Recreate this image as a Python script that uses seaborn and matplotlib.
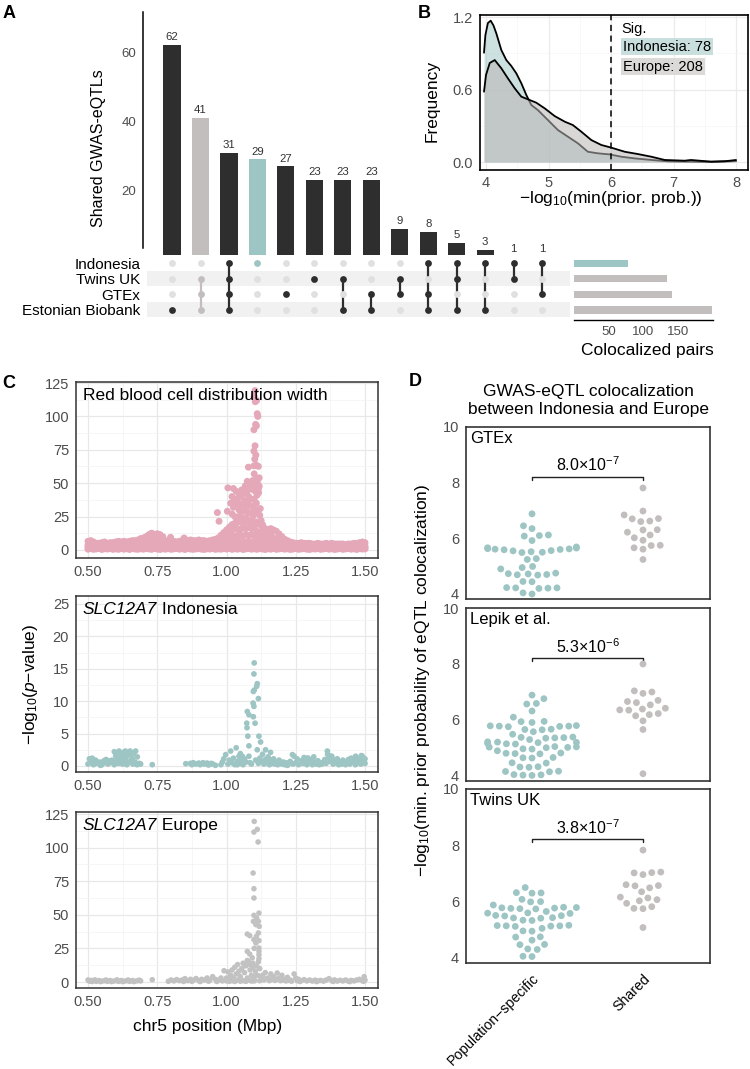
import matplotlib
matplotlib.use("Agg")
import matplotlib.pyplot as plt
from matplotlib.ticker import FixedLocator
import pandas as pd
import seaborn as sns

# ---------------- data ----------------
# panel A: UpSet of shared GWAS-eQTLs
set_names = ["Indonesia", "Twins UK", "GTEx", "Estonian Biobank"]
set_sizes = [78, 134, 141, 198]
combo_counts = [62, 41, 31, 29, 27, 23, 23, 23, 9, 8, 5, 3, 1, 1]
combo_members = [
    ["Estonian Biobank"],
    ["Twins UK", "GTEx", "Estonian Biobank"],
    ["Indonesia", "Twins UK", "GTEx", "Estonian Biobank"],
    ["Indonesia"],
    ["GTEx"],
    ["Twins UK"],
    ["Twins UK", "Estonian Biobank"],
    ["GTEx", "Estonian Biobank"],
    ["Twins UK", "GTEx"],
    ["Indonesia", "GTEx", "Estonian Biobank"],
    ["Indonesia", "Twins UK", "Estonian Biobank"],
    ["Indonesia", "Estonian Biobank"],
    ["Indonesia", "Twins UK"],
    ["Indonesia", "GTEx"],
]
combo_kind = ["dark", "gray", "dark", "teal", "dark", "dark", "dark", "dark",
              "dark", "dark", "dark", "dark", "dark", "dark"]

# panel B: density curves
indo_dens_x = [3.968, 3.99, 4.03, 4.075, 4.12, 4.165, 4.245, 4.325, 4.405, 4.485, 4.565,
               4.645, 4.725, 4.83, 4.99, 5.15, 5.31, 5.47, 5.63, 5.79, 5.98, 6.165,
               6.38, 6.65, 6.91, 7.34, 7.6, 8.0]
indo_dens_y = [0.905, 1.05, 1.15, 1.17, 1.13, 1.065, 0.927, 0.844, 0.795, 0.734, 0.652,
               0.555, 0.472, 0.43, 0.348, 0.265, 0.21, 0.155, 0.085, 0.072, 0.063, 0.044,
               0.03, 0.017, 0.006, 0.004, 0.002, 0.008]
euro_dens_x = [3.968, 4.0, 4.06, 4.14, 4.245, 4.35, 4.46, 4.565, 4.7, 4.805, 4.94, 5.1,
               5.26, 5.39, 5.525, 5.685, 5.845, 6.005, 6.22, 6.43, 6.645, 6.86, 7.18,
               7.28, 7.6, 7.82, 8.0]
euro_dens_y = [0.582, 0.72, 0.82, 0.844, 0.776, 0.693, 0.61, 0.541, 0.513, 0.491, 0.444,
               0.38, 0.334, 0.306, 0.251, 0.182, 0.141, 0.119, 0.085, 0.066, 0.044,
               0.017, 0.011, 0.017, 0.003, 0.006, 0.017]

# panel C: regional association (Mbp, -log10 p)
pink_band_x = [0.50, 0.51, 0.52, 0.53, 0.54, 0.55, 0.56, 0.57, 0.58, 0.59,
               0.60, 0.61, 0.62, 0.63, 0.64, 0.65, 0.66, 0.67, 0.68, 0.69,
               0.70, 0.71, 0.72, 0.73, 0.74, 0.75, 0.76, 0.77, 0.78, 0.79,
               0.80, 0.81, 0.82, 0.83, 0.84, 0.85, 0.86, 0.87, 0.88, 0.89,
               0.90, 0.91, 0.92, 0.93, 0.94, 0.95, 0.96, 0.97, 0.98, 0.99,
               1.00, 1.01, 1.02, 1.03, 1.04, 1.05, 1.06, 1.07, 1.08, 1.09,
               1.10, 1.11, 1.12, 1.13, 1.14, 1.15, 1.16, 1.17, 1.18, 1.19,
               1.20, 1.21, 1.22, 1.23, 1.24, 1.25, 1.26, 1.27, 1.28, 1.29,
               1.30, 1.31, 1.32, 1.33, 1.34, 1.35, 1.36, 1.37, 1.38, 1.39,
               1.40, 1.41, 1.42, 1.43, 1.44, 1.45, 1.46, 1.47, 1.48, 1.49, 1.50]
pink_band_low = [0.6, 1.0, 0.5, 0.8, 1.1, 0.4, 0.9, 0.7, 1.0, 0.5,
                 0.8, 0.5, 1.0, 0.6, 0.9, 0.4, 1.1, 0.7, 0.5, 0.9,
                 0.6, 1.0, 0.8, 0.5, 1.1, 0.7, 0.4, 0.9, 0.6, 1.0,
                 0.5, 0.8, 1.1, 0.6, 0.9, 0.4, 1.0, 0.7, 0.5, 0.8,
                 1.0, 0.6, 0.4, 0.9, 0.7, 1.1, 0.5, 0.8, 0.6, 1.0,
                 0.7, 1.1, 0.5, 0.9, 0.6, 1.0, 0.4, 0.8, 1.1, 0.6,
                 0.9, 0.5, 1.0, 0.7, 0.4, 0.9, 0.6, 1.1, 0.5, 0.8,
                 1.0, 0.6, 0.9, 0.4, 0.7, 1.1, 0.5, 0.8, 1.0, 0.6,
                 0.4, 0.9, 0.7, 1.0, 0.5, 0.8, 1.1, 0.6, 0.9, 0.4,
                 0.7, 1.0, 0.5, 0.8, 1.1, 0.6, 0.9, 0.4, 1.0, 0.7, 0.8]
pink_band_q = [2.0, 2.5, 1.8, 1.8, 1.5, 1.8, 2.2, 1.8, 1.8, 1.8,
               2.0, 2.0, 1.8, 2.3, 2.0, 2.0, 2.3, 2.3, 2.5, 2.8,
               3.0, 3.5, 4.0, 4.2, 3.8, 4.0, 4.0, 3.5, 2.5, 1.8,
               2.0, 2.0, 2.0, 2.3, 2.3, 2.3, 2.3, 2.3, 2.0, 2.3,
               2.3, 2.3, 2.3, 2.0, 2.3, 2.3, 2.5, 3.0, 3.0, 3.0,
               3.0, 3.2, 3.0, 3.1, 3.0, 2.9, 3.0, 3.2, 3.0, 3.1,
               3.0, 3.1, 3.0, 2.9, 3.0, 3.1, 3.0, 3.0, 2.9, 3.0,
               3.0, 2.5, 2.3, 2.0, 1.8, 1.8, 1.8, 1.8, 1.8, 1.8,
               1.8, 1.5, 1.5, 1.8, 1.5, 1.5, 1.8, 1.5, 1.8, 1.5,
               1.5, 1.5, 1.5, 1.5, 1.5, 1.5, 1.8, 1.8, 1.8, 2.0, 1.8]
pink_band_mid = [3.5, 4.0, 3.0, 3.0, 2.5, 3.0, 3.5, 3.0, 3.0, 3.0,
                 3.5, 3.5, 3.0, 4.0, 3.5, 3.5, 4.0, 4.0, 4.5, 5.0,
                 5.0, 6.0, 7.0, 7.5, 6.5, 7.0, 7.0, 6.0, 4.0, 3.0,
                 3.5, 3.5, 3.5, 4.0, 4.0, 4.0, 4.0, 4.0, 3.5, 4.0,
                 4.0, 4.0, 4.0, 3.5, 4.0, 4.0, 4.5, 5.0, 6.0, 7.0,
                 8.0, 9.0, 10.0, 10.5, 11.0, 11.0, 10.5, 11.5, 11.0, 11.5,
                 10.5, 11.0, 10.0, 9.0, 8.5, 8.0, 8.5, 8.0, 7.5, 6.5,
                 5.5, 4.5, 4.0, 3.5, 3.0, 3.0, 3.0, 3.0, 3.0, 3.0,
                 3.0, 2.5, 2.5, 3.0, 2.5, 2.5, 3.0, 2.5, 3.0, 2.5,
                 2.5, 2.5, 2.5, 2.5, 2.5, 2.5, 3.0, 3.0, 3.0, 3.5, 3.0]
pink_band_top = [6.5, 7.0, 6.0, 5.0, 5.0, 5.5, 6.0, 5.0, 5.5, 5.5,
                 6.0, 6.5, 6.0, 6.5, 6.0, 6.5, 7.0, 7.0, 7.5, 8.5,
                 9.0, 10.0, 11.5, 12.5, 11.0, 12.0, 11.5, 10.0, 7.0, 5.5,
                 6.0, 6.5, 6.0, 6.5, 7.0, 7.5, 7.0, 7.5, 7.0, 7.0,
                 7.5, 7.0, 7.0, 6.5, 7.0, 7.5, 8.0, 9.0, 11.0, 13.0,
                 15.0, 17.0, 19.0, 20.0, 21.0, 21.0, 20.0, 22.0, 21.0, 22.0,
                 20.0, 21.0, 19.0, 17.0, 16.0, 15.0, 16.0, 15.0, 14.0, 12.0,
                 10.0, 8.0, 7.0, 6.0, 5.5, 5.0, 5.0, 5.5, 5.0, 5.0,
                 5.0, 4.5, 4.5, 5.0, 4.5, 4.5, 5.0, 4.5, 5.0, 4.5,
                 4.5, 4.5, 4.5, 4.0, 4.5, 4.5, 5.0, 5.0, 5.5, 6.0, 5.5]
pink_fill_x = [0.98, 0.99, 1.00, 1.01, 1.02, 1.03, 1.04, 1.05, 1.06, 1.07, 1.08, 1.09,
               1.10, 1.11, 1.12, 1.13, 1.14, 1.15, 1.16, 1.17, 1.18, 1.19, 1.20]
pink_fill_lo = [4, 5, 5.5, 6, 6, 5.5, 6.5, 6, 5.5, 6, 6.5, 6,
                5.5, 6, 5.5, 5, 5.5, 5, 4.5, 4, 3.5, 3, 3]
pink_fill_hi = [8, 10, 12, 13, 15, 16, 16, 15.5, 16.5, 16, 17, 16,
                16.5, 14, 13, 12, 12.5, 12, 11, 9, 8, 6.5, 5.5]
pink_peak = [(1.103, 119.3), (1.100, 115), (1.109, 112), (1.104, 111), (1.111, 102),
             (1.113, 100), (1.105, 94), (1.099, 90), (1.108, 93), (1.103, 78),
             (1.099, 74), (1.106, 71), (1.102, 68), (1.108, 63.4), (1.099, 63),
             (1.115, 62.6), (1.079, 62), (1.112, 53.4), (1.075, 51.4), (1.105, 49.4),
             (1.118, 47.7), (1.100, 57), (1.097, 45), (1.110, 47), (1.116, 43),
             (1.005, 46.5), (1.025, 46), (1.003, 29), (0.967, 28), (0.973, 21.5),
             (1.02, 40), (1.03, 38), (1.04, 36), (1.05, 40), (1.06, 42), (1.035, 33),
             (1.045, 30), (1.055, 34), (1.065, 37), (1.075, 44), (1.08, 40), (1.085, 46),
             (1.09, 49), (1.095, 52), (1.07, 31), (1.08, 28), (1.09, 33), (1.10, 38),
             (1.105, 44), (1.112, 50), (1.118, 54), (1.115, 46), (1.11, 41), (1.02, 27),
             (1.03, 25), (1.04, 23), (1.05, 26), (1.06, 22), (1.07, 24), (1.085, 21),
             (1.095, 25), (1.10, 27), (1.11, 30), (1.12, 26), (1.125, 22), (1.13, 19),
             (1.025, 32), (1.045, 42), (1.065, 29), (1.075, 35), (1.088, 38), (1.098, 31),
             (1.108, 35), (1.122, 31), (1.015, 35), (1.035, 44), (1.055, 45), (1.068, 48),
             (0.798, 9.5), (0.847, 9), (0.73, 12.5), (0.75, 12), (0.76, 11)]

teal_pts = [(0.500, 0.3), (0.505, 1.1), (0.512, 0.5), (0.520, 0.2), (0.527, 0.9), (0.535, 0.4),
            (0.542, 0.6), (0.550, 0.2), (0.557, 0.8), (0.565, 1.0), (0.572, 0.3), (0.580, 0.5),
            (0.587, 0.9), (0.595, 0.2), (0.602, 0.6), (0.610, 0.4), (0.617, 1.0), (0.625, 0.3),
            (0.632, 0.7), (0.640, 0.2), (0.647, 0.5), (0.655, 0.9), (0.662, 0.3), (0.670, 0.6),
            (0.677, 0.2), (0.685, 0.4), (0.690, 0.3), (0.515, 1.2), (0.530, 0.7), (0.545, 0.1),
            (0.560, 0.5), (0.575, 0.8), (0.595, 2.2), (0.600, 1.6), (0.605, 2.0), (0.612, 2.3),
            (0.620, 1.7), (0.628, 2.1), (0.635, 2.3), (0.640, 1.5), (0.645, 1.9), (0.652, 2.3),
            (0.658, 1.6), (0.665, 2.0), (0.672, 2.3), (0.678, 1.4), (0.608, 1.2), (0.625, 1.3),
            (0.660, 1.1), (0.635, 0.9), (0.600, 0.8),
            (0.732, 0.2), (0.853, 0.35), (0.870, 0.4), (0.875, 0.2), (0.880, 0.5), (0.890, 0.3),
            (0.900, 0.45), (0.905, 0.2), (0.915, 0.5), (0.920, 0.3), (0.930, 0.45), (0.935, 0.15),
            (0.945, 0.4), (0.950, 0.3), (0.960, 0.1), (0.980, 0.2), (0.985, 0.6), (0.990, 1.1),
            (0.997, 1.75),
            (1.100, 15.9), (1.099, 14.2), (1.111, 12.7), (1.109, 12.3), (1.100, 11.7), (1.097, 11.5),
            (1.115, 10.4), (1.096, 9.7), (1.099, 9.2), (1.075, 8.4), (1.081, 7.9), (1.097, 7.6),
            (1.073, 6.6), (1.103, 6.6), (1.074, 5.9), (1.077, 4.6), (1.117, 4.6), (1.081, 3.1),
            (1.123, 3.7), (1.035, 2.8), (1.111, 2.5), (1.015, 2.3), (1.050, 1.9), (1.057, 1.5),
            (1.081, 1.5), (1.085, 0.5), (1.039, 0.2), (1.141, 2.5), (1.159, 2.1), (1.153, 1.1),
            (1.238, 1.75), (1.244, 1.5), (1.292, 1.2), (1.364, 2.3), (1.376, 1.5), (1.466, 1.5),
            (1.487, 1.6),
            (1.005, 0.3), (1.010, 0.9), (1.020, 0.5), (1.025, 1.2), (1.030, 0.2), (1.040, 0.7),
            (1.045, 1.5), (1.050, 0.4), (1.055, 0.9), (1.060, 0.2), (1.065, 1.1), (1.070, 0.6),
            (1.090, 0.3), (1.105, 0.9),
            (1.115, 0.4), (1.120, 1.2), (1.125, 0.7), (1.130, 1.8), (1.135, 0.3), (1.140, 1.0),
            (1.145, 0.5), (1.150, 1.4), (1.155, 0.2), (1.160, 0.8), (1.165, 0.4), (1.170, 1.1),
            (1.175, 0.3), (1.180, 0.6), (1.185, 0.2), (1.190, 0.9), (1.200, 0.3), (1.205, 0.6),
            (1.210, 0.2), (1.215, 0.5), (1.220, 0.1), (1.225, 0.4), (1.230, 0.7), (1.240, 0.3),
            (1.250, 0.5), (1.255, 1.1), (1.260, 0.2), (1.270, 0.8), (1.275, 0.4), (1.280, 1.3),
            (1.285, 0.6), (1.290, 0.2), (1.295, 1.2), (1.300, 0.5), (1.305, 0.9), (1.310, 0.2),
            (1.315, 1.4), (1.320, 0.6), (1.325, 0.3), (1.330, 0.8), (1.335, 0.2), (1.340, 0.5),
            (1.345, 0.3), (1.350, 0.6), (1.355, 1.0), (1.360, 0.4), (1.365, 1.8), (1.370, 1.2),
            (1.375, 0.7), (1.380, 1.5), (1.385, 0.3), (1.390, 0.9), (1.395, 0.5), (1.400, 1.1),
            (1.405, 0.2), (1.410, 0.6), (1.415, 0.3), (1.420, 0.9), (1.425, 0.4), (1.430, 0.2),
            (1.435, 0.7), (1.440, 1.0), (1.445, 0.3), (1.450, 1.2), (1.455, 0.6), (1.460, 0.9),
            (1.465, 0.2), (1.470, 1.3), (1.475, 0.5), (1.480, 1.0), (1.485, 0.3), (1.490, 1.5),
            (1.495, 0.7), (1.500, 0.4), (1.500, 1.1)]

gray_pts = [(0.500, 1.5), (0.505, 0.6), (0.510, 1.2), (0.515, 0.4), (0.520, 1.0), (0.530, 0.5),
            (0.540, 1.1), (0.550, 0.6), (0.560, 1.0), (0.570, 0.5), (0.580, 1.1), (0.590, 0.6),
            (0.600, 1.0), (0.610, 0.5), (0.620, 1.1), (0.630, 0.6), (0.640, 1.0), (0.650, 0.5),
            (0.660, 1.1), (0.670, 0.6), (0.680, 1.0), (0.690, 0.8), (0.525, 1.6), (0.545, 0.3),
            (0.565, 1.5), (0.585, 0.3), (0.605, 1.6), (0.625, 0.3), (0.645, 1.5), (0.665, 0.3),
            (0.685, 1.4), (0.732, 1.7),
            (0.790, 0.5), (0.800, 1.5), (0.810, 0.8), (0.820, 1.8), (0.830, 1.0), (0.840, 1.5),
            (0.850, 2.5), (0.860, 1.0), (0.870, 2.0), (0.880, 1.2), (0.890, 2.6), (0.900, 1.0),
            (0.910, 2.0), (0.920, 1.5), (0.930, 3.0), (0.940, 1.2), (0.950, 4.0), (0.960, 2.0),
            (0.970, 1.2), (0.980, 3.0), (0.991, 8.4), (0.845, 0.4), (0.875, 0.5), (0.905, 0.3),
            (0.935, 0.6), (0.965, 0.4), (0.985, 0.8),
            (1.000, 3.0), (1.005, 7.5), (1.010, 2.0), (1.015, 5.0), (1.020, 9.0), (1.025, 3.0),
            (1.030, 11.0), (1.035, 6.0), (1.040, 13.0), (1.045, 8.0), (1.050, 4.0), (1.055, 10.0),
            (1.060, 14.0), (1.065, 7.0), (1.070, 12.0), (1.075, 3.0), (1.080, 15.0), (1.085, 9.0),
            (1.090, 5.0), (1.095, 11.0), (1.100, 2.0), (1.000, 0.8), (1.020, 1.0), (1.040, 1.5),
            (1.060, 1.0), (1.080, 1.5), (1.100, 0.8), (1.010, 0.5), (1.030, 0.4), (1.050, 0.6),
            (1.070, 0.5), (1.090, 0.7),
            (1.100, 119.5), (1.099, 111.6), (1.111, 113.6), (1.114, 104.2), (1.096, 81.1),
            (1.099, 69.4), (1.099, 62.5), (1.117, 51.3), (1.099, 49.6), (1.109, 47.6),
            (1.097, 45.1), (1.115, 45.1), (1.106, 42.7), (1.118, 41.4), (1.075, 35.7),
            (1.084, 34.5), (1.115, 36.5), (1.108, 34.0), (1.099, 31.5), (1.117, 30.8),
            (1.106, 29.0), (1.075, 22.8), (1.084, 20.8), (1.117, 25.3), (1.117, 22.8),
            (1.117, 20.3), (1.117, 17.4), (1.075, 16.0), (1.085, 13.0), (1.095, 14.0),
            (1.108, 12.0), (1.115, 15.0), (1.120, 10.0), (1.100, 25.0), (1.093, 18.0),
            (1.104, 8.0), (1.112, 5.0), (1.098, 4.0),
            (1.120, 1.0), (1.125, 3.5), (1.130, 5.0), (1.135, 1.5), (1.140, 7.0), (1.145, 2.5),
            (1.150, 3.0), (1.155, 1.0), (1.160, 6.0), (1.165, 2.0), (1.170, 4.0), (1.175, 1.2),
            (1.180, 2.0), (1.183, 6.7), (1.190, 3.0), (1.195, 1.0), (1.200, 5.0), (1.205, 1.5),
            (1.210, 2.0), (1.215, 0.8), (1.220, 3.5), (1.225, 1.2), (1.230, 1.5), (1.235, 0.6),
            (1.244, 6.0), (1.250, 3.0), (1.255, 1.0), (1.260, 2.0), (1.270, 1.0), (1.280, 1.8),
            (1.290, 0.8), (1.300, 1.5), (1.310, 0.7), (1.320, 1.4), (1.330, 0.8), (1.340, 1.2),
            (1.350, 0.6), (1.360, 1.5), (1.370, 2.5), (1.380, 1.0), (1.390, 1.6), (1.400, 0.7),
            (1.410, 1.3), (1.420, 0.8), (1.430, 1.5), (1.440, 0.6), (1.450, 1.2), (1.460, 0.8),
            (1.470, 1.5), (1.480, 2.0), (1.490, 1.0), (1.497, 4.0), (1.500, 1.5), (1.265, 0.4),
            (1.325, 0.3), (1.385, 0.4), (1.445, 0.3), (1.495, 0.5)]

# panel D: -log10(min prior probability), population-specific vs shared
groups = ["Population\u2212specific", "Shared"]
gtex_pop = [6.88, 6.45, 6.35, 6.1, 6.12, 6.08, 5.92, 5.61, 5.5, 5.56, 5.69, 5.59, 5.63,
            5.65, 5.66, 5.49, 5.6, 5.55, 5.52, 5.62, 5.24, 5.27, 4.99, 4.95, 4.9, 4.72,
            4.73, 4.7, 4.69, 4.75, 4.68, 4.44, 4.45, 4.22, 4.21, 4.23, 4.22, 4.2, 4.0, 4.04]
gtex_shared = [7.81, 6.98, 6.84, 6.7, 6.71, 6.6, 6.62, 6.31, 6.3, 6.22, 6.12, 6.02, 5.93,
               5.74, 5.75, 5.66, 5.61, 5.24]
lepik_pop = [6.89, 6.76, 6.59, 6.57, 6.32, 6.1, 5.91, 5.94, 5.95, 5.78, 5.79, 5.77, 5.8,
             5.76, 5.78, 5.66, 5.67, 5.65, 5.58, 5.49, 5.37, 5.38, 5.36, 5.39, 5.35, 5.3,
             5.2, 5.21, 5.19, 5.22, 5.15, 5.14, 5.16, 5.03, 5.04, 5.02, 5.05, 5.01, 4.96,
             4.97, 4.9, 4.8, 4.81, 4.79, 4.82, 4.65, 4.66, 4.64, 4.46, 4.47, 4.32, 4.33,
             4.31, 4.16, 4.17, 4.15, 4.04, 4.05, 4.03, 4.02]
lepik_shared = [8.0, 7.0, 7.04, 6.95, 6.62, 6.7, 6.66, 6.54, 6.35, 6.36, 6.42, 6.39, 6.23,
                6.15, 6.19, 5.97, 5.66, 4.08]
twins_pop = [6.5, 6.31, 6.32, 6.3, 6.08, 5.99, 6.0, 5.88, 5.78, 5.79, 5.77, 5.8, 5.76,
             5.74, 5.75, 5.65, 5.59, 5.6, 5.58, 5.5, 5.51, 5.49, 5.42, 5.43, 5.41, 5.33,
             5.34, 5.14, 5.15, 5.13, 5.16, 5.12, 5.14, 5.05, 4.95, 4.96, 4.74, 4.75, 4.63,
             4.47, 4.48, 4.32, 4.3, 4.06, 4.05]
twins_shared = [7.83, 7.02, 7.05, 7.03, 6.96, 6.56, 6.6, 6.57, 6.49, 6.35, 6.13, 6.16,
                6.07, 6.03, 5.94, 5.82, 5.75, 5.76, 5.08]
d_panels = ["GTEx", "Lepik et al.", "Twins UK"]
d_pvals = [r"8.0×10$^{-7}$", r"5.3×10$^{-6}$", r"3.8×10$^{-7}$"]

# ---------------- style ----------------
sns.set_theme(style="white")
plt.rcParams["font.family"] = ["Liberation Sans", "DejaVu Sans"]
plt.rcParams["mathtext.fontset"] = "custom"
plt.rcParams["mathtext.rm"] = "Liberation Sans"
plt.rcParams["mathtext.it"] = "Liberation Sans:italic"
plt.rcParams["mathtext.bf"] = "Liberation Sans:bold"
plt.rcParams["axes.unicode_minus"] = True
plt.rcParams["text.color"] = "black"
plt.rcParams["axes.labelcolor"] = "black"

DARK = "#2e2e2e"
TEAL = "#9dc5c3"
GRAY = "#c3bebe"
PINK = "#e4a8b9"
SNPGRAY = "#c2c2c2"
LIGHT = "#e0e0e0"
TICKC = "#4d4d4d"
kind_color = {"dark": DARK, "gray": GRAY, "teal": TEAL}

W, H = 750, 1069
fig = plt.figure(figsize=(W / 100, H / 100), dpi=100)


def add_ax(l, t, r, b):
    return fig.add_axes([l / W, 1 - b / H, (r - l) / W, (b - t) / H])


def ftext(x, y, s, **kw):
    return fig.text(x / W, 1 - y / H, s, **kw)


def box_style(ax, color="#333333", lw=1.1):
    for s in ax.spines.values():
        s.set_visible(True)
        s.set_color(color)
        s.set_linewidth(lw)
    ax.tick_params(axis="both", which="major", length=3, width=0.8, color="#333333",
                   labelsize=10.5, labelcolor=TICKC, pad=2)
    ax.tick_params(axis="both", which="minor", length=0)


# ---------------- panel A ----------------
axA = add_ax(143, 12, 570, 256)
df_bars = pd.DataFrame({"combo": [str(i) for i in range(len(combo_counts))],
                        "count": combo_counts})
sns.barplot(data=df_bars, x="combo", y="count", hue="combo",
            palette=[kind_color[k] for k in combo_kind], legend=False,
            width=0.6, saturation=1, linewidth=0, ax=axA)
for i, c in enumerate(combo_counts):
    axA.text(i, c + 0.8, str(c), ha="center", va="bottom", fontsize=8.2, color="#333333")
axA.set_xlim(-1.02, 13.98)
axA.set_ylim(1.15, 71.55)
axA.set_xlabel("")
axA.set_ylabel("")
for s in ["top", "right", "bottom"]:
    axA.spines[s].set_visible(False)
axA.spines["left"].set_color("black")
axA.spines["left"].set_linewidth(1.1)
axA.spines["left"].set_bounds(3.5, 71.55)
axA.set_xticks([])
axA.set_yticks([20, 40, 60])
axA.tick_params(axis="y", length=3, width=0.8, color="#333333", labelsize=9.5,
                labelcolor=TICKC, pad=2)
ftext(99, 148, "Shared GWAS-eQTLs", rotation=90, ha="center", va="center", fontsize=11.5)

axM = add_ax(143, 255.2, 570, 317.8)
axM.set_xlim(-1.02, 13.98)
axM.set_ylim(3.5, -0.5)
for r in [1, 3]:
    axM.axhspan(r - 0.48, r + 0.48, xmin=0.01, xmax=1, color="#f1f1f1", lw=0, zorder=0)
for i, members in enumerate(combo_members):
    col = kind_color[combo_kind[i]]
    rows = [set_names.index(m) for m in members]
    for j in range(4):
        axM.scatter(i, j, s=24, color=col if j in rows else LIGHT, lw=0, zorder=3)
    if len(rows) > 1:
        axM.plot([i, i], [min(rows), max(rows)], color=col, lw=1.6, zorder=2)
axM.set_xticks([])
axM.set_yticks(range(4))
axM.set_yticklabels(set_names, fontsize=11, color="black")
axM.tick_params(axis="y", length=0, pad=2)
for s in axM.spines.values():
    s.set_visible(False)

axS = add_ax(574, 255.2, 713, 320)
sns.barplot(x=set_sizes, y=set_names, hue=set_names, palette=[TEAL, GRAY, GRAY, GRAY],
            orient="h", width=0.45, saturation=1, linewidth=0, legend=False, ax=axS)
axS.set_xlim(0, 200)
axS.set_ylim(3.64, -0.5)
axS.set_xlabel("")
axS.set_ylabel("")
axS.set_yticks([])
for s in ["top", "right", "left"]:
    axS.spines[s].set_visible(False)
axS.spines["bottom"].set_color("black")
axS.spines["bottom"].set_linewidth(1.0)
axS.set_xticks([0, 50, 100, 150, 200])
axS.set_xticklabels(["", "50", "100", "150", ""])
axS.tick_params(axis="x", length=3, width=0.8, color="#333333", labelsize=9.5,
                labelcolor=TICKC, pad=1)
ftext(647, 350, "Colocalized pairs", ha="center", va="center", fontsize=12.5)

# ---------------- panel B ----------------
axB = add_ax(480, 15, 748, 170)
axB.set_axisbelow(True)
axB.fill_between(indo_dens_x, 0, indo_dens_y, color=TEAL, alpha=0.5, lw=0, zorder=1)
axB.plot(indo_dens_x, indo_dens_y, color="black", lw=1.3, zorder=2)
axB.fill_between(euro_dens_x, 0, euro_dens_y, color="#bab5b5", alpha=0.55, lw=0, zorder=3)
axB.plot(euro_dens_x, euro_dens_y, color="black", lw=1.3, zorder=4)
axB.axvline(6, color="black", lw=1.1, ls=(0, (4, 3)), zorder=5)
axB.set_xlim(3.904, 8.192)
axB.set_ylim(-0.066, 1.217)
axB.set_xticks([4, 5, 6, 7, 8])
axB.set_yticks([0.0, 0.6, 1.2])
axB.set_yticklabels(["0.0", "0.6", "1.2"])
axB.xaxis.set_minor_locator(FixedLocator([4.5, 5.5, 6.5, 7.5]))
axB.yaxis.set_minor_locator(FixedLocator([0.3, 0.9]))
axB.grid(True, which="major", color="#ebebeb", lw=0.9)
axB.grid(True, which="minor", color="#f5f5f5", lw=0.5)
box_style(axB, color="black", lw=1.2)
axB.tick_params(axis="x", pad=1)
axB.text(6.16, 1.10, "Sig.", ha="left", va="center", fontsize=10.5)
axB.text(6.19, 0.956, "Indonesia: 78", ha="left", va="center", fontsize=10.5,
         bbox=dict(boxstyle="square,pad=0.12", facecolor="#c8dfdd", edgecolor="none"))
axB.text(6.19, 0.79, "Europe: 208", ha="left", va="center", fontsize=10.5,
         bbox=dict(boxstyle="square,pad=0.12", facecolor="#dcd9d9", edgecolor="none"))
ftext(432, 101, "Frequency", rotation=90, ha="center", va="center", fontsize=12.5)
ftext(611, 198, "\u2212log$_{10}$(min(prior. prob.))", ha="center", va="center", fontsize=12.5)

# ---------------- panel C ----------------
pink_x = pink_band_x * 4 + pink_fill_x * 2 + [p[0] for p in pink_peak]
pink_y = (pink_band_low + pink_band_q + pink_band_mid + pink_band_top + pink_fill_lo
          + pink_fill_hi + [p[1] for p in pink_peak])
df_gwas = pd.DataFrame({"pos": pink_x, "logp": pink_y})
df_indo = pd.DataFrame({"pos": [p[0] for p in teal_pts], "logp": [p[1] for p in teal_pts]})
df_euro = pd.DataFrame({"pos": [p[0] for p in gray_pts], "logp": [p[1] for p in gray_pts]})

c_specs = [
    ((76, 382, 378, 558), df_gwas, PINK, 25, (-5.99, 125.75), [0, 25, 50, 75, 100, 125],
     None, "Red blood cell distribution width"),
    ((76, 596, 378, 772), df_indo, TEAL, 17, (-0.93, 26.23), [0, 5, 10, 15, 20, 25],
     "SLC12A7", " Indonesia"),
    ((76, 812, 378, 988), df_euro, SNPGRAY, 16, (-4.46, 126.5), [0, 25, 50, 75, 100, 125],
     "SLC12A7", " Europe"),
]
c_axes = []
for (l, t, r, b), df, col, sz, ylim, yt, gene, lab in c_specs:
    ax = add_ax(l, t, r, b)
    ax.set_axisbelow(True)
    sns.scatterplot(data=df, x="pos", y="logp", color=col, s=sz, linewidth=0,
                    edgecolor="none", alpha=1, ax=ax, zorder=3)
    ax.set_xlim(0.4567, 1.5469)
    ax.set_ylim(*ylim)
    ax.set_xticks([0.5, 0.75, 1.0, 1.25, 1.5])
    ax.set_xticklabels(["0.50", "0.75", "1.00", "1.25", "1.50"])
    ax.set_yticks(yt)
    ax.xaxis.set_minor_locator(FixedLocator([0.625, 0.875, 1.125, 1.375]))
    step = yt[1] - yt[0]
    ax.yaxis.set_minor_locator(FixedLocator([v + step / 2 for v in yt[:-1]]))
    ax.grid(True, which="major", color="#e8e8e8", lw=0.9)
    ax.grid(True, which="minor", color="#f3f3f3", lw=0.5)
    ax.set_xlabel("")
    ax.set_ylabel("")
    box_style(ax)
    c_axes.append((ax, gene, lab))

fig.canvas.draw()
renderer = fig.canvas.get_renderer()
for ax, gene, lab in c_axes:
    x0 = 0.023
    if gene is not None:
        tg = ax.text(x0, 0.925, gene, transform=ax.transAxes, ha="left", va="center",
                     fontsize=12.5, style="italic", zorder=5)
        bb = tg.get_window_extent(renderer=renderer)
        x0 = ax.transAxes.inverted().transform((bb.x1, bb.y0))[0]
    ax.text(x0, 0.925, lab, transform=ax.transAxes, ha="left", va="center",
            fontsize=12.5, zorder=5)
ftext(208, 1027, "chr5 position (Mbp)", ha="center", va="center", fontsize=12.5)
ftext(30, 684, "\u2212log$_{10}$($\\it{p}$\u2212value)", rotation=90, ha="center",
      va="center", fontsize=12.5)

# ---------------- panel D ----------------
d_boxes = [(466, 427, 710, 599), (466, 608, 710, 781), (466, 789, 710, 963)]
d_data = [(gtex_pop, gtex_shared), (lepik_pop, lepik_shared), (twins_pop, twins_shared)]
swarm_points = []
for k, ((l, t, r, b), (pop, shared)) in enumerate(zip(d_boxes, d_data)):
    ax = add_ax(l, t, r, b)
    df = pd.DataFrame({"group": [groups[0]] * len(pop) + [groups[1]] * len(shared),
                       "val": pop + shared})
    ax.set_ylim(3.82, 10.0)
    ax.set_xlim(-0.595, 1.604)
    n_before = len(ax.collections)
    # lay the swarm out with a roomier marker, then show smaller dots (looser beeswarm)
    sns.swarmplot(data=df, x="group", y="val", hue="group", order=groups,
                  palette={groups[0]: TEAL, groups[1]: GRAY}, size=6.2, legend=False,
                  linewidth=0, ax=ax)
    swarm_points.extend(ax.collections[n_before:])
    ax.set_ylim(3.82, 10.0)
    ax.set_xlim(-0.595, 1.604)
    ax.plot([0, 0, 1, 1], [8.1, 8.22, 8.22, 8.1], color="#222222", lw=1.0)
    ax.text(0.5, 8.3, d_pvals[k], ha="center", va="bottom", fontsize=11.5)
    ax.text(0.016, 0.935, d_panels[k], transform=ax.transAxes, ha="left", va="center",
            fontsize=12)
    ax.set_yticks([4, 6, 8, 10])
    ax.set_xlabel("")
    ax.set_ylabel("")
    box_style(ax, lw=1.2)
    if k < 2:
        ax.set_xticks([])
    else:
        ax.set_xticks([0, 1])
        ax.set_xticklabels(groups, rotation=45, ha="right", rotation_mode="anchor",
                           fontsize=10.2, color="black")
        ax.tick_params(axis="x", pad=3)
ftext(588, 392, "GWAS-eQTL colocalization", ha="center", va="center", fontsize=12.5)
ftext(588, 409.5, "between Indonesia and Europe", ha="center", va="center", fontsize=12.5)
ftext(422, 680, "\u2212log$_{10}$(min. prior probability of eQTL colocalization)",
      rotation=90, ha="center", va="center", fontsize=12.5)

# panel letters
for letter, x, y in [("A", 9, 13), ("B", 424, 13), ("C", 9, 383), ("D", 415, 381)]:
    ftext(x, y, letter, ha="center", va="center", fontsize=13, fontweight="bold")

fig.canvas.draw()
for pts in swarm_points:
    if "draw" in pts.__dict__:
        del pts.draw
    pts.set_sizes([4.9 ** 2])

fig.savefig("out.png", dpi=100)
